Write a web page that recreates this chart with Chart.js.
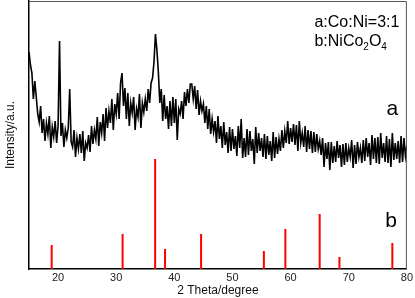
<!DOCTYPE html>
<html>
<head>
<meta charset="utf-8">
<script src="https://cdn.jsdelivr.net/npm/chart.js@4"></script>
<style>
  html, body { margin: 0; padding: 0; background: #fff; }
  #wrap { width: 415px; height: 298px; }
</style>
</head>
<body>
<div id="wrap"><canvas id="xrd"></canvas></div>
<script>
// sample a: measured pattern, 2theta from 15 to 80 in 0.25 deg steps
var thetaStart = 15;
var thetaStep = 0.25;
var intensityA = [
  217,204,196,170,188,172,155,147,163,136,150,128,146,135,153,121,142,132,148,126,
  143,228,133,146,122,139,131,141,180,127,122,139,112,131,120,135,116,138,108,126,
  121,134,117,143,125,139,130,152,123,147,136,155,128,161,141,158,146,170,139,165,
  155,176,150,186,196,163,181,150,176,143,166,156,172,139,160,152,175,141,166,157,
  170,158,180,166,186,191,207,235,219,197,166,180,148,174,150,163,140,168,143,172,
  146,170,129,160,155,168,150,177,163,180,166,185,185,170,183,160,179,154,168,158,
  165,146,163,140,160,135,150,137,148,126,153,130,143,121,147,124,137,116,142,118,
  140,120,133,113,143,121,150,111,131,112,140,114,138,118,130,105,142,116,136,118,
  131,112,135,110,133,114,128,108,137,111,132,115,130,118,139,121,138,126,148,125,
  141,127,145,124,144,118,148,126,136,122,143,117,139,120,138,116,137,117,135,120,
  128,114,131,102,126,110,127,99,127,106,123,107,128,111,124,102,125,104,126,107,
  121,112,129,101,124,105,127,112,121,106,129,108,131,112,126,104,134,110,131,106,
  132,105,136,111,126,107,133,106,130,102,136,109,126,110,128,106,133,107,131,113,
  124
];

// b: NiCo2O4 reference lines
var refPos = [18.9, 31.1, 36.7, 38.4, 44.6, 55.4, 59.1, 65.0, 68.4, 77.5];
var refHeight = [24, 35, 110, 20, 35, 18, 40, 55, 12, 26];

var xTicks = [20, 30, 40, 50, 60, 70, 80];

var curveA = [];
for (var i = 0; i < intensityA.length; i++) {
  curveA.push({ x: thetaStart + i * thetaStep, y: intensityA[i] });
}
var sticks = [];
for (var j = 0; j < refPos.length; j++) {
  sticks.push({ x: refPos[j], y: 0 });
  sticks.push({ x: refPos[j], y: refHeight[j] });
  sticks.push({ x: refPos[j], y: null });
}

var fontName = "Arial, 'Liberation Sans', sans-serif";

var textPlugin = {
  id: 'textPlugin',
  afterDraw: function(chart) {
    var c = chart.ctx;
    var a = chart.chartArea;
    var xs = chart.scales.x;
    var ys = chart.scales.y;
    c.save();
    // top and right frame
    c.strokeStyle = '#555';
    c.lineWidth = 1;
    c.beginPath();
    c.moveTo(a.left, a.top + 0.5);
    c.lineTo(a.right - 0.5, a.top + 0.5);
    c.lineTo(a.right - 0.5, a.bottom);
    c.stroke();

    c.fillStyle = '#000';
    c.textBaseline = 'alphabetic';
    c.textAlign = 'left';
    var lx = xs.getPixelForValue(64.1);
    c.font = '16px ' + fontName;
    c.fillText('a:Co:Ni=3:1', lx, ys.getPixelForValue(242));
    var by = ys.getPixelForValue(223);
    var px = lx;
    var parts = [['b:NiCo', 0], ['2', 1], ['O', 0], ['4', 1]];
    for (var k = 0; k < parts.length; k++) {
      c.font = (parts[k][1] ? '10px ' : '16px ') + fontName;
      c.fillText(parts[k][0], px, by + (parts[k][1] ? 4 : 0));
      px += c.measureText(parts[k][0]).width;
    }
    c.textAlign = 'center';
    c.font = '21px ' + fontName;
    c.fillText('a', xs.getPixelForValue(77.5), ys.getPixelForValue(154));
    c.fillText('b', xs.getPixelForValue(77.3), ys.getPixelForValue(42));
    c.restore();
  }
};

new Chart(document.getElementById('xrd'), {
  type: 'line',
  data: {
    datasets: [
      {
        label: 'a',
        data: curveA,
        borderColor: '#000',
        borderWidth: 1.6,
        pointRadius: 0,
        tension: 0,
        fill: false
      },
      {
        label: 'b',
        data: sticks,
        borderColor: '#ff0000',
        borderWidth: 2,
        pointRadius: 0,
        spanGaps: false,
        fill: false
      }
    ]
  },
  options: {
    responsive: true,
    maintainAspectRatio: false,
    animation: false,
    events: [],
    layout: { padding: { top: 1, right: 7, left: 0, bottom: 0 } },
    plugins: { legend: { display: false }, tooltip: { enabled: false } },
    scales: {
      x: {
        type: 'linear',
        min: 15,
        max: 80,
        grid: { display: false, drawTicks: false },
        border: { color: '#000', width: 1.5 },
        afterBuildTicks: function(s) { s.ticks = xTicks.map(function(v) { return { value: v }; }); },
        ticks: { color: '#222', font: { family: fontName, size: 11 }, padding: 2, maxRotation: 0 },
        title: { display: true, text: '2 Theta/degree', color: '#111', font: { family: fontName, size: 12 }, padding: { top: 2, bottom: 0 } },
        afterFit: function(s) { s.height = 29; }
      },
      y: {
        min: 0,
        max: 268,
        grid: { display: false, drawTicks: false },
        border: { color: '#000', width: 1.5 },
        ticks: { display: false },
        title: { display: true, text: 'Intensity/a.u.', color: '#111', font: { family: fontName, size: 12 }, padding: { top: 3, bottom: 4 } },
        afterFit: function(s) { s.width = 29; }
      }
    }
  },
  plugins: [textPlugin]
});
</script>
</body>
</html>
